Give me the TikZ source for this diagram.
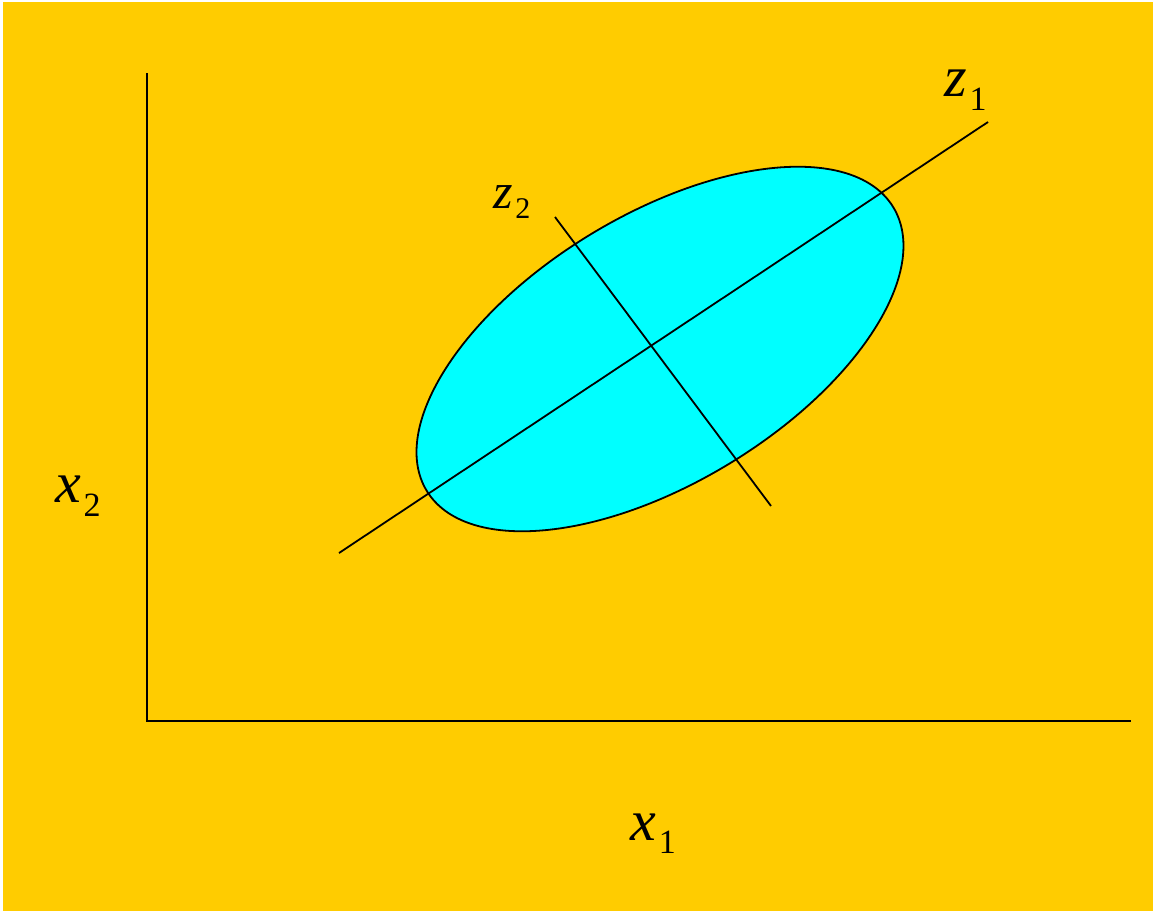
\documentclass[tikz,border=0pt]{standalone}
\usepackage{fontspec}
\setmainfont{Liberation Serif}[ItalicFont={Liberation Serif Italic}]
\definecolor{bgyellow}{HTML}{FFCC00}
\definecolor{ellcyan}{HTML}{00FFFF}
\newcommand\varlbl[5]{{\fontsize{#1}{#1}\selectfont\itshape #3}\kern3pt\raisebox{-#5}{\fontsize{#2}{#2}\selectfont #4}}
\begin{document}
\begin{tikzpicture}[x=1pt,y=-1pt,
  axisline/.style={line width=2.2pt},
  pcline/.style={line width=1.8pt},
  lbl/.style={anchor=base west,inner sep=0pt,outer sep=0pt}]
\useasboundingbox (0,0) rectangle (1153,911);
\fill[white] (0,0) rectangle (1153,911);
\fill[bgyellow] (3,2) rectangle (1153,911);
% axes
\coordinate (top) at (147,73);
\coordinate (origin) at (147,721);
\coordinate (right) at (1131,721);
\draw[axisline] (top) -- (origin) -- (right);
% ellipse
\coordinate (E) at (660,349);
\draw[fill=ellcyan,line width=1.8pt,rotate around={31.3:(E)}] (E) ellipse [x radius=273, y radius=134];
% principal axes
\coordinate (z1a) at (339,553);
\coordinate (z1b) at (988,122);
\coordinate (z2a) at (555,217);
\coordinate (z2b) at (771,506);
\draw[pcline] (z1a) -- (z1b);
\draw[pcline] (z2a) -- (z2b);
% labels
\node[lbl] (lz1) at (944,96) {\varlbl{58}{34}{z}{1}{14pt}};
\node[lbl] (lz2) at (493,208) {\varlbl{50}{30}{z}{2}{10pt}};
\node[lbl] (lx2) at (55,502) {\varlbl{58}{34}{x}{2}{14pt}};
\node[lbl] (lx1) at (630,840) {\varlbl{58}{34}{x}{1}{13pt}};
\end{tikzpicture}
\end{document}
